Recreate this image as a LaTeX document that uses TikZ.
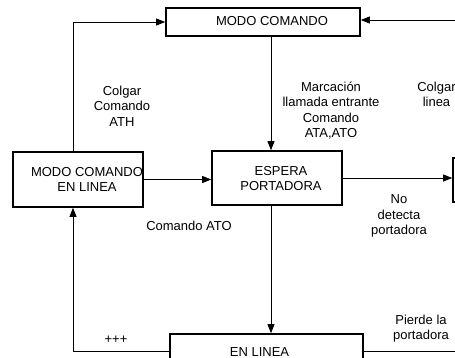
\documentclass[tikz,border=0pt]{standalone}
\usepackage{fontspec}
\setmainfont{Liberation Sans}
\usetikzlibrary{arrows.meta,shapes,calc}

\tikzset{
	estado/.style={draw=black, line width=1.6pt, rectangle, inner sep=0pt},
	flecha/.style={black, line width=0.8pt, -{Triangle[length=9pt,width=7pt]}},
	linea/.style={black, line width=0.8pt},
	etiqueta/.style={align=center, inner sep=0pt}
}

\begin{document}
\begin{tikzpicture}[x=1pt, y=-1pt, font=\fontsize{13}{15.5}\selectfont]
	\useasboundingbox (0,0) rectangle (455,358);
	\clip (0,0) rectangle (455,358);

	\node[estado, minimum width=194pt, minimum height=28pt] (modo) at (263, 22) {};
	\node[estado, minimum width=130pt, minimum height=55pt] (mcel) at (78, 179.5) {};
	\node[estado, minimum width=130pt, minimum height=54pt] (espera) at (277, 178) {};
	\node[estado, minimum width=193pt, minimum height=34pt] (enlinea) at (266.5, 351) {};
	\node[estado, minimum width=60pt, minimum height=44pt] (colgado) at (483, 180) {};

	\node[etiqueta] (modo-t) at ($(modo)+(9,-1)$) {MODO COMANDO};
	\node[etiqueta] (mcel-t) at ($(mcel)+(9,0)$) {MODO COMANDO\\EN LINEA};
	\node[etiqueta] (espera-t) at ($(espera)+(4,0.5)$) {ESPERA\\PORTADORA};
	\node[etiqueta] (enlinea-t) at ($(enlinea)+(-7,1)$) {EN LINEA};

	\coordinate (lx) at (73, 0);
	\coordinate (vx) at (271, 0);
	\coordinate (ftr) at (470, 20);
	\coordinate (fbr) at (470, 351);

	\draw[flecha] (lx |- mcel.north) |- (modo.west);
	\draw[flecha] (ftr) -- (ftr -| modo.east);
	\draw[flecha] (vx |- modo.south) -- (vx |- espera.north);
	\draw[flecha] (mcel.east) -- (mcel.east -| espera.west);
	\draw[flecha] (espera.east) -- (espera.east -| colgado.west);
	\draw[flecha] (vx |- espera.south) -- (vx |- enlinea.north);
	\draw[flecha] (enlinea.west) -| (lx |- mcel.south);
	\draw[linea] (enlinea.east) -- (fbr);

	\node[etiqueta] (l1) at (122, 106) {Colgar\\Comando\\ATH};
	\node[etiqueta] (l2) at (331, 110.5) {Marcación\\llamada entrante\\Comando\\ATA,ATO};
	\node[etiqueta] (l3) at (436.5, 94.5) {Colgar\\linea};
	\node[etiqueta] (l4) at (189, 226) {Comando ATO};
	\node[etiqueta] (l5) at (399, 216) {No\\detecta\\portadora};
	\node[etiqueta] (l6) at (116, 340) {+++};
	\node[etiqueta] (l7) at (421, 328.5) {Pierde la\\portadora};
\end{tikzpicture}
\end{document}
